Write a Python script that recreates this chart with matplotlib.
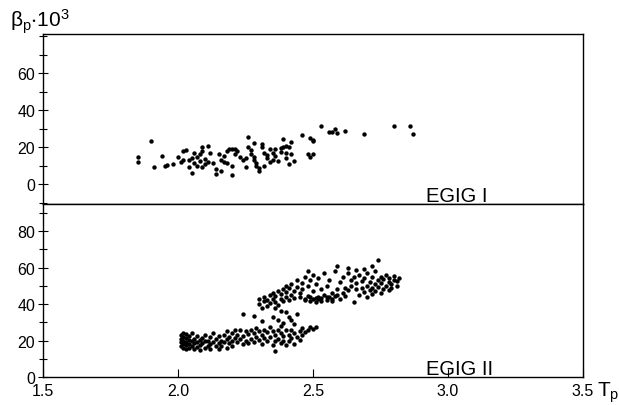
import numpy as np
import matplotlib.pyplot as plt
from matplotlib.ticker import MultipleLocator

plt.rcParams['font.family'] = ['Liberation Sans', 'DejaVu Sans']

# EGIG I : (T_p, beta_p*10^3)
egig1_x = [1.85, 1.85, 1.90, 1.91, 1.94, 1.95, 1.96, 1.98, 2.00, 2.01, 2.02, 2.03, 2.02, 2.04, 2.05,
           2.04, 2.05, 2.06, 2.07, 2.08, 2.09, 2.09, 2.10, 2.10, 2.11, 2.07, 2.09, 2.11, 2.06, 2.08,
           2.13, 2.14, 2.14, 2.16, 2.17, 2.17, 2.18, 2.19, 2.20, 2.21, 2.22, 2.21, 2.23, 2.20, 2.20,
           2.24, 2.25, 2.18, 2.15, 2.26, 2.26, 2.27, 2.27, 2.28, 2.28, 2.29, 2.29, 2.30, 2.30, 2.31,
           2.31, 2.32, 2.33, 2.33, 2.34, 2.35, 2.35, 2.36, 2.36, 2.37, 2.38, 2.38, 2.39, 2.39, 2.40,
           2.40, 2.41, 2.42, 2.40, 2.41, 2.43, 2.42, 2.46, 2.49, 2.50, 2.50, 2.49, 2.48, 2.50, 2.53,
           2.56, 2.57, 2.58, 2.59, 2.62, 2.69, 2.80, 2.86, 2.87, 2.32, 2.34, 2.28, 2.25, 2.12, 2.16]
egig1_y = [14.4, 11.7, 23.4, 9.4, 15.3, 9.9, 10.2, 10.8, 14.7, 11.7, 17.8, 18.4, 13.0, 13.0, 14.2,
           9.4, 5.8, 11.5, 14.5, 16.0, 18.0, 20.0, 13.5, 11.0, 20.5, 10.0, 9.0, 12.0, 16.5, 12.5,
           11.3, 8.2, 5.5, 13.0, 15.0, 12.0, 18.0, 19.0, 19.0, 19.0, 18.0, 16.0, 14.5, 10.0, 5.0,
           13.0, 14.0, 11.5, 16.0, 25.5, 20.0, 18.5, 16.0, 14.5, 13.0, 11.5, 10.0, 8.5, 7.0, 20.0,
           21.5, 16.5, 14.0, 15.5, 12.0, 16.5, 13.0, 15.0, 19.0, 12.5, 19.5, 17.5, 24.5, 20.0, 17.0,
           20.5, 20.0, 22.7, 14.0, 11.0, 12.5, 16.0, 26.5, 25.0, 24.0, 23.0, 14.5, 16.0, 16.0, 31.4,
           28.0, 28.0, 29.5, 27.5, 28.6, 27.0, 31.4, 31.4, 27.0, 9.5, 19.0, 22.0, 9.0, 16.5, 7.0]

# EGIG II, lower branch
egig2_low_x = [2.01, 2.01, 2.01, 2.01, 2.02, 2.02, 2.02, 2.02, 2.02, 2.03, 2.03, 2.03, 2.03, 2.03,
               2.04, 2.04, 2.04, 2.04, 2.05, 2.05, 2.05, 2.06, 2.06, 2.06, 2.07, 2.07, 2.07, 2.08,
               2.08, 2.08, 2.09, 2.09, 2.10, 2.10, 2.10, 2.11, 2.11, 2.12, 2.12, 2.12, 2.13, 2.13,
               2.14, 2.14, 2.15, 2.15, 2.15, 2.16, 2.16, 2.17, 2.17, 2.18, 2.18, 2.18, 2.19, 2.19,
               2.20, 2.20, 2.20, 2.21, 2.21, 2.22, 2.22, 2.23, 2.23, 2.24, 2.24, 2.25, 2.25, 2.26,
               2.26, 2.27, 2.27, 2.28, 2.28, 2.29, 2.29, 2.30, 2.30, 2.31, 2.31, 2.32, 2.32, 2.33,
               2.33, 2.34, 2.34, 2.35, 2.35, 2.36, 2.36, 2.36, 2.37, 2.37, 2.38, 2.38, 2.38, 2.39,
               2.39, 2.40, 2.40, 2.41, 2.41, 2.42, 2.42, 2.43, 2.43, 2.44, 2.45, 2.45, 2.46, 2.46,
               2.47, 2.48, 2.49, 2.50, 2.51]
egig2_low_y = [17.0, 19.0, 21.0, 23.0, 16.0, 18.0, 20.0, 22.0, 24.0, 15.5, 17.5, 19.0, 21.5, 23.5,
               16.0, 18.0, 20.5, 22.5, 17.0, 19.5, 24.0, 15.5, 18.5, 21.0, 16.5, 19.0, 22.5, 17.5,
               20.5, 15.0, 18.5, 21.5, 16.0, 19.5, 23.0, 17.0, 20.0, 22.0, 18.0, 15.5, 19.0, 24.0,
               17.0, 21.0, 18.5, 22.5, 15.5, 20.0, 17.0, 23.0, 19.0, 21.0, 16.0, 25.0, 18.5, 22.0,
               20.0, 24.0, 17.0, 26.0, 21.5, 19.0, 23.0, 25.5, 21.0, 18.0, 22.5, 25.0, 20.0, 23.5,
               18.5, 26.0, 21.0, 24.0, 19.0, 22.0, 27.0, 25.0, 20.5, 23.0, 18.0, 26.0, 21.5, 24.5,
               19.5, 27.5, 22.0, 25.0, 17.5, 23.0, 20.0, 14.4, 26.0, 21.0, 24.0, 18.5, 28.0, 22.5,
               20.0, 25.5, 17.5, 23.0, 19.5, 21.5, 26.0, 24.0, 18.0, 22.0, 25.0, 20.5, 23.0, 27.0,
               24.5, 26.0, 27.5, 26.5, 27.4]

# EGIG II, points between the branches
egig2_mid_x = [2.24, 2.28, 2.31, 2.35, 2.37, 2.39, 2.40, 2.42, 2.43, 2.41, 2.44, 2.38, 2.36]
egig2_mid_y = [34.5, 33.6, 30.5, 33.0, 31.0, 29.5, 35.5, 31.0, 29.0, 33.0, 34.5, 36.0, 38.0]

# EGIG II, upper branch
egig2_up_x = [2.30, 2.30, 2.31, 2.32, 2.32, 2.33, 2.33, 2.34, 2.34, 2.35, 2.35, 2.36, 2.36, 2.37,
              2.37, 2.38, 2.38, 2.39, 2.39, 2.40, 2.40, 2.40, 2.41, 2.41, 2.42, 2.42, 2.43, 2.43,
              2.44, 2.44, 2.45, 2.45, 2.46, 2.46, 2.47, 2.47, 2.48, 2.48, 2.48, 2.49, 2.49, 2.50,
              2.50, 2.50, 2.51, 2.51, 2.52, 2.52, 2.52, 2.53, 2.53, 2.54, 2.54, 2.55, 2.55, 2.56,
              2.56, 2.57, 2.57, 2.58, 2.58, 2.59, 2.59, 2.60, 2.60, 2.61, 2.61, 2.62, 2.62, 2.63,
              2.63, 2.47, 2.49, 2.51, 2.53, 2.55, 2.57, 2.59,
              2.64, 2.64, 2.65, 2.65, 2.66, 2.66, 2.67, 2.67, 2.68, 2.68, 2.69, 2.69, 2.70, 2.70,
              2.70, 2.71, 2.71, 2.72, 2.72, 2.72, 2.73, 2.73, 2.73, 2.74, 2.74, 2.74, 2.75, 2.75,
              2.75, 2.76, 2.76, 2.77, 2.77, 2.78, 2.78, 2.78, 2.79, 2.79, 2.80, 2.80, 2.81, 2.81,
              2.82, 2.72, 2.69, 2.66, 2.63]
egig2_up_y = [42.7, 40.0, 38.0, 41.5, 44.0, 39.0, 42.0, 45.0, 40.5, 43.0, 46.0, 41.0, 44.5, 47.0,
              39.5, 43.0, 45.5, 48.0, 41.5, 44.0, 46.5, 50.0, 42.0, 48.5, 45.0, 51.0, 47.0, 43.5,
              49.5, 53.0, 46.0, 44.0, 51.5, 48.0, 55.0, 42.0, 58.0, 50.0, 44.5, 53.0, 41.5, 56.0,
              47.0, 43.0, 51.0, 41.0, 54.0, 44.0, 42.5, 48.0, 43.5, 57.0, 45.0, 42.0, 50.0, 44.0,
              53.0, 46.0, 41.5, 58.0, 44.5, 61.0, 48.0, 43.0, 52.0, 46.0, 55.0, 44.5, 49.0, 57.0,
              47.5, 43.0, 44.0, 43.5, 41.5, 44.0, 43.0, 45.0,
              50.0, 53.0, 41.0, 55.0, 48.0, 51.5, 45.0, 56.0, 49.0, 52.5, 46.5, 54.0, 50.0, 57.0,
              44.0, 47.5, 52.0, 49.0, 55.0, 45.5, 51.0, 58.0, 47.0, 53.0, 49.5, 64.1, 46.0, 55.0,
              51.5, 48.0, 53.5, 50.0, 56.0, 47.5, 52.0, 54.5, 49.0, 51.0, 53.0, 55.5, 50.0, 52.8,
              54.0, 61.0, 59.0, 58.5, 60.0]

fig = plt.figure(figsize=(6.19, 4.06), dpi=100)
ax1 = fig.add_axes([43/619, 1 - 205/406, 540/619, 170/406])
ax2 = fig.add_axes([43/619, 1 - 378/406, 540/619, 173/406], sharex=ax1)

ax1.scatter(egig1_x, egig1_y, s=10, c='black', linewidths=0)
ax2.scatter(egig2_low_x, egig2_low_y, s=10, c='black', linewidths=0)
ax2.scatter(egig2_mid_x, egig2_mid_y, s=10, c='black', linewidths=0)
ax2.scatter(egig2_up_x, egig2_up_y, s=10, c='black', linewidths=0)

ax1.set_xlim(1.5, 3.5)
ax1.set_ylim(-10.8, 81.1)
ax2.set_ylim(0, 94.8)

for ax in (ax1, ax2):
    for sp in ax.spines.values():
        sp.set_linewidth(1.0)
        sp.set_color('black')
    ax.yaxis.set_major_locator(MultipleLocator(20))
    ax.yaxis.set_minor_locator(MultipleLocator(10))
    ax.tick_params(axis='y', which='major', direction='inout', length=7, width=0.8,
                   labelsize=11.5, pad=2)
    ax.tick_params(axis='y', which='minor', direction='inout', length=6, width=0.8)

ax1.set_yticks([0, 20, 40, 60])
ax1.tick_params(axis='x', which='both', bottom=False, labelbottom=False)

ax2.set_xticks([1.5, 2.0, 2.5, 3.0, 3.5])
ax2.set_xticklabels(['1.5', '2.0', '2.5', '3.0', '3.5'])
ax2.tick_params(axis='x', direction='in', length=6, width=0.8, labelsize=11.5, pad=4)
ax2.set_yticks([0, 20, 40, 60, 80])

ax1.text(2.92, -9.2, 'EGIG I', fontsize=14.5, ha='left', va='baseline')
ax2.text(2.92, 1.6, 'EGIG II', fontsize=14.5, ha='left', va='baseline')

fig.text(10/619, 1 - 27/406, r'$\mathregular{\beta_p{\cdot}10^3}$', fontsize=15,
         ha='left', va='baseline')
fig.text(597/619, 1 - 397/406, r'$\mathregular{T_p}$', fontsize=15,
         ha='left', va='baseline')

fig.savefig('out.png', dpi=100)
